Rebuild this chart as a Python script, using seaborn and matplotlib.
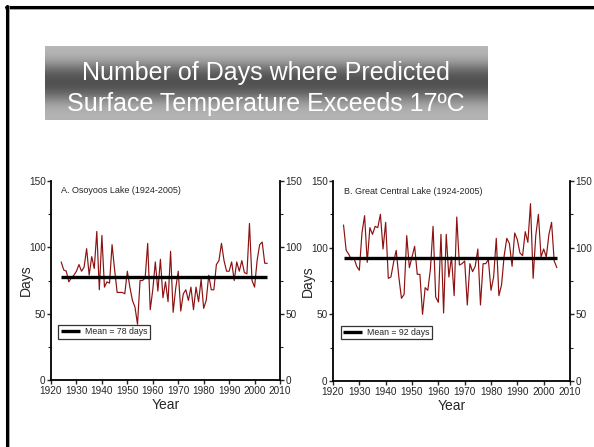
import numpy as np
import pandas as pd
import matplotlib
matplotlib.use("Agg")
import matplotlib.pyplot as plt
from matplotlib.lines import Line2D
from matplotlib.ticker import MultipleLocator
import seaborn as sns

# ---------------- data ----------------
years = list(range(1924, 2006))
osoyoos_days = [89, 83, 82, 74, 77, 79, 82, 87, 82, 85,
                99, 79, 93, 84, 112, 68, 109, 70, 74, 73,
                102, 83, 66, 66, 66, 65, 82, 70, 60, 55,
                42, 75, 75, 77, 103, 53, 68, 89, 67, 91,
                62, 74, 59, 97, 51, 69, 82, 52, 65, 68,
                60, 70, 53, 70, 59, 76, 54, 60, 79, 68,
                68, 87, 90, 103, 90, 82, 82, 89, 75, 89,
                82, 90, 81, 80, 118, 75, 70, 90, 102, 104,
                88, 88]
great_central_days = [117, 98, 95, 91, 92, 86, 83, 111, 124, 89,
                      115, 110, 116, 115, 125, 99, 119, 77, 78, 89,
                      98, 78, 62, 65, 109, 85, 93, 101, 80, 80,
                      50, 70, 68, 84, 116, 63, 59, 110, 51, 110,
                      78, 93, 64, 123, 87, 88, 90, 57, 88, 82,
                      86, 99, 57, 88, 88, 91, 68, 78, 107, 64,
                      72, 94, 107, 103, 86, 111, 106, 96, 94, 112,
                      104, 133, 77, 109, 125, 93, 99, 93, 110, 119,
                      90, 85]
mean_days = [78, 92]
lake_names = ["Osoyoos Lake", "Great Central Lake"]
panel_titles = ["A. Osoyoos Lake (1924-2005)", "B. Great Central Lake (1924-2005)"]
legend_labels = ["Mean = 78 days", "Mean = 92 days"]
title_lines = ["Number of Days where Predicted", "Surface Temperature Exceeds 17ºC"]
x_ticks = list(range(1920, 2011, 10))
y_ticks = [0, 50, 100, 150]
x_label = "Year"
y_label = "Days"

assert len(years) == len(osoyoos_days) == len(great_central_days)

df = pd.DataFrame({
    "Year": years * 2,
    "Days": osoyoos_days + great_central_days,
    "Lake": [lake_names[0]] * len(years) + [lake_names[1]] * len(years),
})

# ---------------- style ----------------
sns.set_style("ticks")
narrow = ["Liberation Sans Narrow", "Liberation Sans", "DejaVu Sans"]
plt.rcParams["font.family"] = ["Liberation Sans", "DejaVu Sans"]

W, H = 594, 447
fig = plt.figure(figsize=(W / 100, H / 100), dpi=100)
fig.patch.set_facecolor("white")

# slide frame (top and left only)
fig.add_artist(Line2D([6 / W, 1], [1 - 8.5 / H, 1 - 8.5 / H], color="#999999", lw=1.2))
fig.add_artist(Line2D([6 / W, 1], [1 - 7 / H, 1 - 7 / H], color="black", lw=2.2))
fig.add_artist(Line2D([8.8 / W, 8.8 / W], [0, 1 - 6 / H], color="#999999", lw=1.2))
fig.add_artist(Line2D([7.3 / W, 7.3 / W], [0, 1 - 6 / H], color="black", lw=2.2))

# title box with vertical gradient
tax = fig.add_axes([45 / W, 1 - 120 / H, 442 / W, 74 / H])
grad = np.array([182, 176, 160, 130, 100, 84, 80, 88, 110, 140, 165, 176, 180], dtype=float)
tax.imshow(grad[:, None], cmap="gray", vmin=0, vmax=255, aspect="auto",
           interpolation="bicubic", extent=[0, 1, 0, 1])
tax.set_axis_off()
fig.text(266 / W, 1 - 73 / H, title_lines[0], color="white", fontsize=18,
         ha="center", va="center")
fig.text(266 / W, 1 - 104 / H, title_lines[1], color="white", fontsize=18,
         ha="center", va="center")

# panels
rects = [[51 / W, 1 - 380 / H, 229 / W, 199 / H],
         [333 / W, 1 - 381 / H, 237 / W, 200 / H]]
line_color = "#8c1111"

for i, lake in enumerate(lake_names):
    ax = fig.add_axes(rects[i])
    sub = df[df["Lake"] == lake]
    sns.lineplot(data=sub, x="Year", y="Days", ax=ax, color=line_color,
                 lw=0.85, legend=False)
    ax.hlines(mean_days[i], sub["Year"].min(), sub["Year"].max(),
              color="black", lw=2.4, label=legend_labels[i], zorder=5)
    ax.set_xlim(1920, 2010)
    ax.set_ylim(0, 150)
    ax.set_xticks(x_ticks)
    ax.set_yticks(y_ticks)
    ax.yaxis.set_minor_locator(MultipleLocator(25))
    ax.set_xticklabels([str(t) for t in x_ticks])
    ax.set_yticklabels([str(t) for t in y_ticks])
    ax.tick_params(axis="x", which="major", direction="out", length=3,
                   width=1, labelsize=7.2, pad=1.5)
    ax.tick_params(axis="y", which="major", direction="out", length=3,
                   width=1, labelsize=7.2, pad=0.8, right=True, labelright=True)
    ax.tick_params(axis="y", which="minor", direction="out", length=2,
                   width=0.8, right=True)
    for lab in ax.get_xticklabels() + ax.get_yticklabels():
        lab.set_family(narrow)
    ax.spines["top"].set_visible(False)
    for s in ["left", "right", "bottom"]:
        ax.spines[s].set_linewidth(1.3)
        ax.spines[s].set_color("black")
    ax.set_xlabel(x_label, fontsize=10, labelpad=1.5)
    ax.set_ylabel(y_label, fontsize=10, labelpad=-3)
    ax.text(0.045, 0.95, panel_titles[i], transform=ax.transAxes,
            fontsize=6.5, family=narrow, ha="left", va="center")
    leg = ax.legend(loc="upper left", bbox_to_anchor=(0.032, 0.275),
                    fontsize=6.3, frameon=True, fancybox=False,
                    handlelength=2.2, handletextpad=0.6, borderpad=0.25,
                    borderaxespad=0)
    leg.get_frame().set_edgecolor("black")
    leg.get_frame().set_linewidth(0.9)
    for t in leg.get_texts():
        t.set_family(narrow)

fig.savefig("out.png", dpi=100)
